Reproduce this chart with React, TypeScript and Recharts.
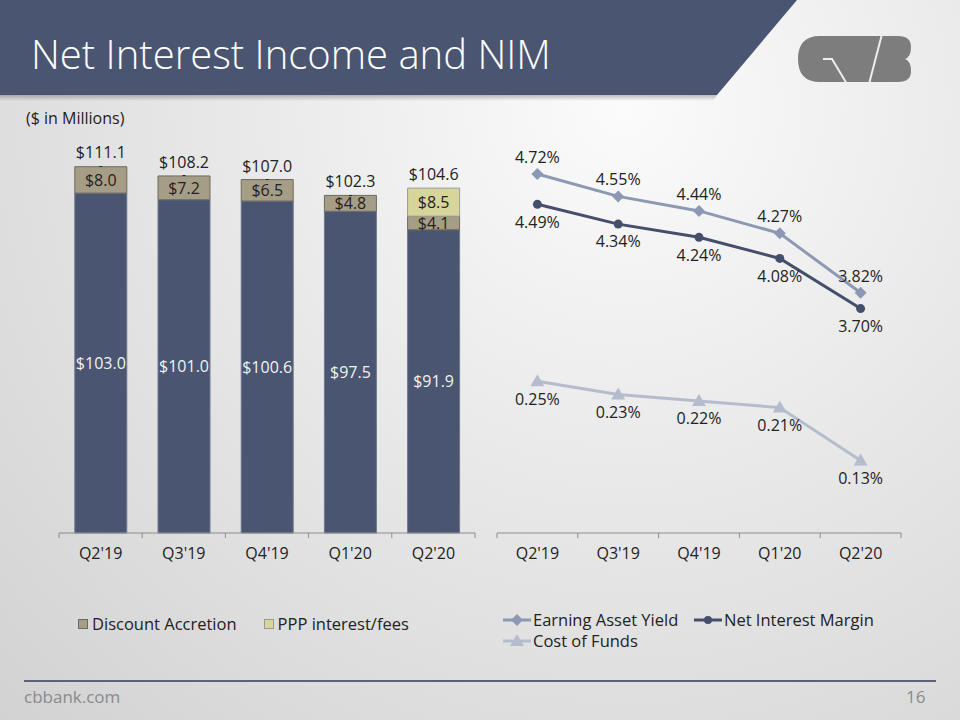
import React from 'react';
import { BarChart, Bar, LineChart, Line, XAxis, YAxis, LabelList, Legend } from 'recharts';

const quarters = ["Q2'19", "Q3'19", "Q4'19", "Q1'20", "Q2'20"];
const coreNii = [103.0, 101.0, 100.6, 97.5, 91.9];
const discountAccretion = [8.0, 7.2, 6.5, 4.8, 4.1];
const pppFees = [0, 0, 0, 0, 8.5];
const totalNii = [111.1, 108.2, 107.0, 102.3, 104.6];

const earningAssetYield = [4.72, 4.55, 4.44, 4.27, 3.82];
const netInterestMargin = [4.49, 4.34, 4.24, 4.08, 3.7];
const costOfFunds = [0.25, 0.23, 0.22, 0.21, 0.13];

const barData = quarters.map((q, i) => ({
  name: q,
  core: coreNii[i],
  accretion: discountAccretion[i],
  ppp: pppFees[i],
  total: totalNii[i],
}));

const lineData = quarters.map((q, i) => ({
  name: q,
  eay: earningAssetYield[i],
  nim: netInterestMargin[i],
  cof: costOfFunds[i],
}));

const FONT = '"Open Sans", "DejaVu Sans", sans-serif';
const NAVY = '#4a5571';
const TAN = '#a59d86';
const PPP = '#d6d69a';
const EAY_C = '#8d98b4';
const NIM_C = '#454f6b';
const COF_C = '#b5bccd';

const money = (v: any) => `$${Number(v).toFixed(1)}`;
const dashIfZero = (v: any) => (Number(v) === 0 ? '-' : '');
const pct = (v: any) => `${Number(v).toFixed(2)}%`;

const LEFT_PLOT_W = 416;
const RIGHT_PLOT_W = 404;

// Excel-style ticks: marks on category boundaries, label in the middle
const makeTick = (band: number) => (props: any) => {
  const { x, y, payload, index } = props;
  const last = index === quarters.length - 1;
  return (
    <g>
      <line x1={x - band / 2} x2={x - band / 2} y1={y} y2={y + 5} stroke="#8c8c8c" />
      {last && <line x1={x + band / 2} x2={x + band / 2} y1={y} y2={y + 5} stroke="#8c8c8c" />}
      <text x={x} y={y + 26} textAnchor="middle" fontSize={16} fill="#222" fontFamily={FONT}>
        {payload.value}
      </text>
    </g>
  );
};

const Diamond = ({ cx, cy, fill }: any) => (
  <polygon points={`${cx},${cy - 6} ${cx + 6},${cy} ${cx},${cy + 6} ${cx - 6},${cy}`} fill={fill} />
);
const Triangle = ({ cx, cy, fill }: any) => (
  <polygon points={`${cx},${cy - 7} ${cx + 7},${cy + 5} ${cx - 7},${cy + 5}`} fill={fill} />
);

const BarLegend = () => (
  <div style={{ display: 'flex', fontFamily: FONT, fontSize: 16.5, color: '#222', alignItems: 'center' }}>
    <span style={{ display: 'inline-block', width: 8, height: 8, background: TAN, border: '1px solid #6e6a60', marginRight: 4 }} />
    <span style={{ marginRight: 27 }}>Discount Accretion</span>
    <span style={{ display: 'inline-block', width: 8, height: 8, background: PPP, border: '1px solid #9a9a9a', marginRight: 4 }} />
    <span>PPP interest/fees</span>
  </div>
);

const LineIcon = ({ color, shape }: { color: string; shape: string }) => (
  <svg width={28} height={12} style={{ marginRight: 2 }}>
    <line x1={0} x2={28} y1={6} y2={6} stroke={color} strokeWidth={3} />
    {shape === 'diamond' && <Diamond cx={14} cy={6} fill={color} />}
    {shape === 'circle' && <circle cx={14} cy={6} r={4} fill={color} />}
    {shape === 'triangle' && <Triangle cx={14} cy={6} fill={color} />}
  </svg>
);

const LineLegend = () => (
  <div style={{ fontFamily: FONT, fontSize: 16.5, color: '#222', lineHeight: '21px' }}>
    <div style={{ display: 'flex', alignItems: 'center' }}>
      <LineIcon color={EAY_C} shape="diamond" />
      <span style={{ width: 161 }}>Earning Asset Yield</span>
      <LineIcon color={NIM_C} shape="circle" />
      <span>Net Interest Margin</span>
    </div>
    <div style={{ display: 'flex', alignItems: 'center' }}>
      <LineIcon color={COF_C} shape="triangle" />
      <span>Cost of Funds</span>
    </div>
  </div>
);

const Logo = () => (
  <svg width={122} height={54} style={{ position: 'absolute', left: 794, top: 32 }}>
    <path
      d="M26,4 H104 Q117,4 117,15 Q117,25 111,27 Q117,29 117,39 Q117,50 104,50 H26 Q4,50 4,27 Q4,4 26,4 Z"
      fill="#7d7d7d"
    />
    <polyline points="29,27 38,27 53,52" fill="none" stroke="#eeeeee" strokeWidth={2} />
    <polyline points="75,52 88,2" fill="none" stroke="#eeeeee" strokeWidth={2} />
  </svg>
);

export default function App() {
  return (
    <div
      style={{
        position: 'absolute',
        left: 0,
        top: 0,
        width: 960,
        height: 720,
        overflow: 'hidden',
        fontFamily: FONT,
        background: 'radial-gradient(ellipse at 65% 15%, #fbfbfb 0%, #e8e8e8 45%, #d2d2d2 100%)',
      }}
    >
      <svg width={960} height={110} style={{ position: 'absolute', left: 0, top: 0 }}>
        <defs>
          <linearGradient id="shadow" x1="0" y1="0" x2="0" y2="1">
            <stop offset="0%" stopColor="#000" stopOpacity={0.25} />
            <stop offset="100%" stopColor="#000" stopOpacity={0} />
          </linearGradient>
        </defs>
        <polygon points="0,95 717,95 713,101 0,101" fill="url(#shadow)" />
        <polygon points="0,0 797,0 717,95 0,95" fill="#4a5571" />
      </svg>
      <div style={{ position: 'absolute', left: 31, top: 26, fontSize: 40, fontWeight: 300, color: '#fff', whiteSpace: 'nowrap' }}>
        Net Interest Income and NIM
      </div>
      <Logo />
      <div style={{ position: 'absolute', left: 26, top: 107, fontSize: 16, color: '#222' }}>($ in Millions)</div>

      <div style={{ position: 'absolute', left: 40, top: 120 }}>
        <BarChart
          width={450}
          height={460}
          data={barData}
          margin={{ top: 17, right: 15, left: 19, bottom: 17 }}
          barCategoryGap="19%"
        >
          <XAxis
            dataKey="name"
            height={30}
            tickSize={0}
            tickMargin={0}
            tickLine={false}
            axisLine={{ stroke: '#8c8c8c' }}
            tick={makeTick(LEFT_PLOT_W / quarters.length)}
            interval={0}
          />
          <XAxis xAxisId="total" dataKey="name" hide />
          <YAxis hide domain={[0, 120]} />
          <Legend
            layout="horizontal"
            verticalAlign="middle"
            align="center"
            wrapperStyle={{ top: 492, left: 38, width: 400 }}
            content={() => <BarLegend />}
          />
          <Bar dataKey="core" stackId="a" fill={NAVY} stroke="#6e7890" legendType="none" isAnimationActive={false}>
            <LabelList dataKey="core" position="center" formatter={money} fill="#f2f2f2" fontSize={16} fontFamily={FONT} />
          </Bar>
          <Bar dataKey="accretion" stackId="a" fill={TAN} stroke="#6e6a60" isAnimationActive={false}>
            <LabelList dataKey="accretion" position="center" formatter={money} fill="#222" fontSize={16} fontFamily={FONT} />
          </Bar>
          <Bar dataKey="ppp" stackId="a" fill={PPP} stroke="#9a9a9a" isAnimationActive={false}>
            <LabelList dataKey="ppp" position="center" formatter={money} fill="#222" fontSize={16} fontFamily={FONT} />
          </Bar>
          {/* transparent total bar overlapping the stack, carries the total labels */}
          <Bar xAxisId="total" dataKey="total" fill="none" legendType="none" isAnimationActive={false}>
            <LabelList dataKey="total" position="top" offset={8} formatter={money} fill="#222" fontSize={16} fontFamily={FONT} />
            <LabelList dataKey="ppp" position="insideTop" offset={-5} formatter={dashIfZero} fill="#222" fontSize={12} fontFamily={FONT} />
          </Bar>
        </BarChart>
      </div>

      <div style={{ position: 'absolute', left: 480, top: 120 }}>
        <LineChart width={440} height={460} data={lineData} margin={{ top: 17, right: 19, left: 17, bottom: 17 }}>
          <XAxis
            dataKey="name"
            height={30}
            tickSize={0}
            tickMargin={0}
            tickLine={false}
            axisLine={{ stroke: '#8c8c8c' }}
            tick={makeTick(RIGHT_PLOT_W / quarters.length)}
            padding={{ left: RIGHT_PLOT_W / quarters.length / 2, right: RIGHT_PLOT_W / quarters.length / 2 }}
            interval={0}
          />
          <YAxis yAxisId="pct" hide domain={[2, 5]} />
          <YAxis yAxisId="cof" hide orientation="right" domain={[0.02, 0.62]} />
          <Legend
            layout="horizontal"
            verticalAlign="middle"
            align="center"
            wrapperStyle={{ top: 489, left: 23, width: 420 }}
            content={() => <LineLegend />}
          />
          <Line
            yAxisId="pct"
            dataKey="eay"
            stroke={EAY_C}
            strokeWidth={3}
            dot={(p: any) => <Diamond key={`e${p.index}`} cx={p.cx} cy={p.cy} fill={EAY_C} />}
            isAnimationActive={false}
          >
            <LabelList dataKey="eay" position="top" offset={11} formatter={pct} fill="#222" fontSize={16} fontFamily={FONT} />
          </Line>
          <Line
            yAxisId="pct"
            dataKey="nim"
            stroke={NIM_C}
            strokeWidth={3}
            dot={(p: any) => <circle key={`n${p.index}`} cx={p.cx} cy={p.cy} r={4.5} fill={NIM_C} />}
            isAnimationActive={false}
          >
            <LabelList dataKey="nim" position="bottom" offset={12} formatter={pct} fill="#222" fontSize={16} fontFamily={FONT} />
          </Line>
          <Line
            yAxisId="cof"
            dataKey="cof"
            stroke={COF_C}
            strokeWidth={3}
            dot={(p: any) => <Triangle key={`c${p.index}`} cx={p.cx} cy={p.cy} fill={COF_C} />}
            isAnimationActive={false}
          >
            <LabelList dataKey="cof" position="bottom" offset={12} formatter={pct} fill="#222" fontSize={16} fontFamily={FONT} />
          </Line>
        </LineChart>
      </div>

      <div style={{ position: 'absolute', left: 24, top: 680, width: 912, height: 2, background: '#5b6378' }} />
      <div style={{ position: 'absolute', left: 24, top: 685, fontSize: 17, color: '#8a8a8a' }}>cbbank.com</div>
      <div style={{ position: 'absolute', left: 906, top: 685, fontSize: 17, color: '#8a8a8a' }}>16</div>
    </div>
  );
}
